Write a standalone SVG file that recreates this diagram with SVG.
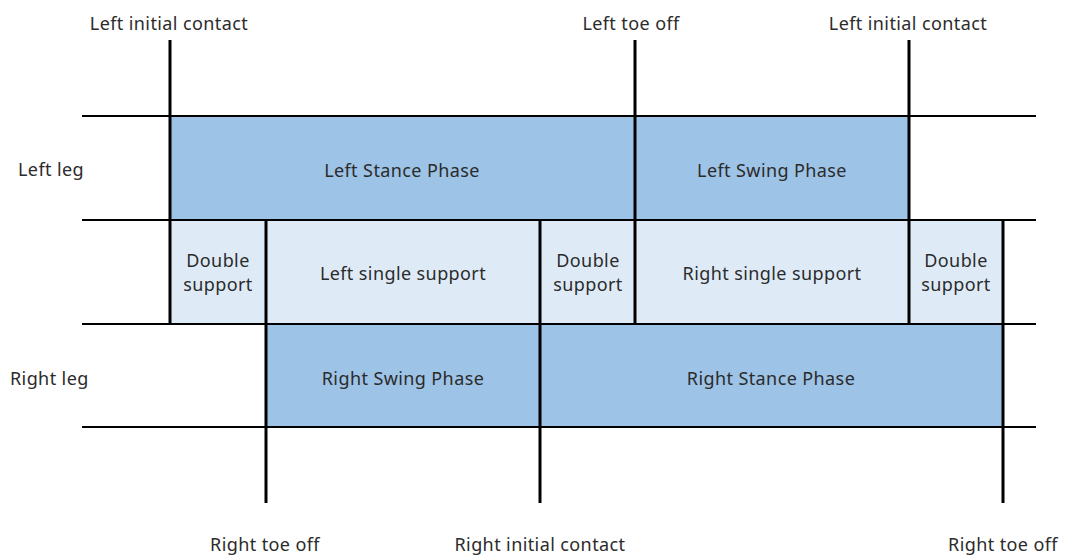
<svg xmlns="http://www.w3.org/2000/svg" width="1065" height="556" viewBox="0 0 1065 556">
  <style>
    .phase { fill: #9DC3E6; }
    .support { fill: #DEEBF7; }
    .row { stroke: #000; stroke-width: 2; }
    .event { stroke: #000; stroke-width: 3; }
    text { font-family: "Noto Sans", "Open Sans", sans-serif; font-size: 18px; letter-spacing: 0.4px; fill: #2b2b2b; }
    .c { text-anchor: middle; }
  </style>
  <rect width="1065" height="556" fill="#fff"/>

  <!-- Left leg phases -->
  <g id="left-stance">
    <rect class="phase" x="170" y="116" width="465" height="104"/>
    <text class="c" x="402" y="177">Left Stance Phase</text>
  </g>
  <g id="left-swing">
    <rect class="phase" x="635" y="116" width="274" height="104"/>
    <text class="c" x="772" y="177">Left Swing Phase</text>
  </g>

  <!-- Support periods -->
  <g id="double-support-1">
    <rect class="support" x="170" y="220" width="96" height="104"/>
    <text class="c" x="218" y="267">Double</text>
    <text class="c" x="218" y="291">support</text>
  </g>
  <g id="left-single-support">
    <rect class="support" x="266" y="220" width="274" height="104"/>
    <text class="c" x="403" y="280">Left single support</text>
  </g>
  <g id="double-support-2">
    <rect class="support" x="540" y="220" width="95" height="104"/>
    <text class="c" x="588" y="267">Double</text>
    <text class="c" x="588" y="291">support</text>
  </g>
  <g id="right-single-support">
    <rect class="support" x="635" y="220" width="274" height="104"/>
    <text class="c" x="772" y="280">Right single support</text>
  </g>
  <g id="double-support-3">
    <rect class="support" x="909" y="220" width="94" height="104"/>
    <text class="c" x="956" y="267">Double</text>
    <text class="c" x="956" y="291">support</text>
  </g>

  <!-- Right leg phases -->
  <g id="right-swing">
    <rect class="phase" x="266" y="324" width="274" height="103"/>
    <text class="c" x="403" y="385">Right Swing Phase</text>
  </g>
  <g id="right-stance">
    <rect class="phase" x="540" y="324" width="463" height="103"/>
    <text class="c" x="771" y="385">Right Stance Phase</text>
  </g>

  <!-- Row labels -->
  <g id="row-labels">
    <text x="18" y="176">Left leg</text>
    <text x="10" y="385">Right leg</text>
  </g>

  <!-- Grid and gait event lines -->
  <g id="connectors">
    <line class="row" x1="82" y1="116" x2="1036" y2="116"/>
    <line class="row" x1="82" y1="220" x2="1036" y2="220"/>
    <line class="row" x1="82" y1="324" x2="1036" y2="324"/>
    <line class="row" x1="82" y1="427" x2="1036" y2="427"/>

    <line class="event" x1="170" y1="40" x2="170" y2="324"/>
    <line class="event" x1="635" y1="40" x2="635" y2="324"/>
    <line class="event" x1="909" y1="40" x2="909" y2="324"/>
    <line class="event" x1="266" y1="220" x2="266" y2="503"/>
    <line class="event" x1="540" y1="220" x2="540" y2="503"/>
    <line class="event" x1="1003" y1="220" x2="1003" y2="503"/>
  </g>

  <!-- Gait event labels -->
  <g id="event-labels">
    <text class="c" x="169" y="30">Left initial contact</text>
    <text class="c" x="631" y="30">Left toe off</text>
    <text class="c" x="908" y="30">Left initial contact</text>
    <text class="c" x="265" y="551">Right toe off</text>
    <text class="c" x="540" y="551">Right initial contact</text>
    <text class="c" x="1003" y="551">Right toe off</text>
  </g>
</svg>
